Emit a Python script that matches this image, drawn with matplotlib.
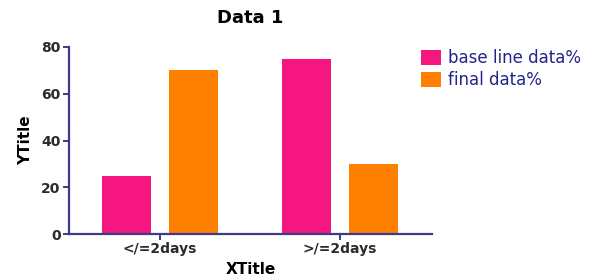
import matplotlib
matplotlib.use("Agg")
import matplotlib.pyplot as plt
import numpy as np

categories = ["</=2days", ">/=2days"]
series_names = ["base line data%", "final data%"]
baseline = [25, 75]
final = [70, 30]
yticks = [0, 20, 40, 60, 80]

pink = "#F5177F"
orange = "#FF8000"
navy = "#3B3B8A"
txt = "#2B2B2B"

plt.rcParams['font.family'] = ['DejaVu Sans']
fig = plt.figure(figsize=(5.97, 2.76), dpi=100)
ax = fig.add_axes([69/597, 1-234/276, (432-69)/597, (234-47)/276])

x = np.arange(len(categories))
w = 0.272
off = 0.1875
ax.bar(x - off, baseline, w, color=pink, label=series_names[0])
ax.bar(x + off, final, w, color=orange, label=series_names[1])

ax.set_xlim(-0.506, 1.511)
ax.set_ylim(0, 80)
ax.set_yticks(yticks)
ax.set_xticks(x)
ax.set_xticklabels(categories)

for s in ["top", "right"]:
    ax.spines[s].set_visible(False)
for s in ["left", "bottom"]:
    ax.spines[s].set_color(navy)
    ax.spines[s].set_linewidth(1.6)

ax.tick_params(axis='both', colors=navy, width=1.4, length=4, labelsize=10, pad=2)
for lab in ax.get_xticklabels() + ax.get_yticklabels():
    lab.set_color(txt)
    lab.set_fontweight('bold')

ax.set_title("Data 1", fontsize=13, fontweight='bold', pad=17, color='black')
ax.set_xlabel("XTitle", fontsize=11, fontweight='bold', color='black')
ax.set_ylabel("YTitle", fontsize=11, fontweight='bold', color='black')
ax.xaxis.set_label_coords(0.5, -0.152)
ax.yaxis.set_label_coords(-0.100, 0.5)

leg = fig.legend(loc='upper left', bbox_to_anchor=(421/597, 1-49/276),
                 frameon=False, fontsize=12, borderpad=0, borderaxespad=0,
                 handlelength=1.2, handleheight=1.0, handletextpad=0.45,
                 labelspacing=0.25)
for t in leg.get_texts():
    t.set_color("#23238C")

fig.savefig("out.png", dpi=100)
